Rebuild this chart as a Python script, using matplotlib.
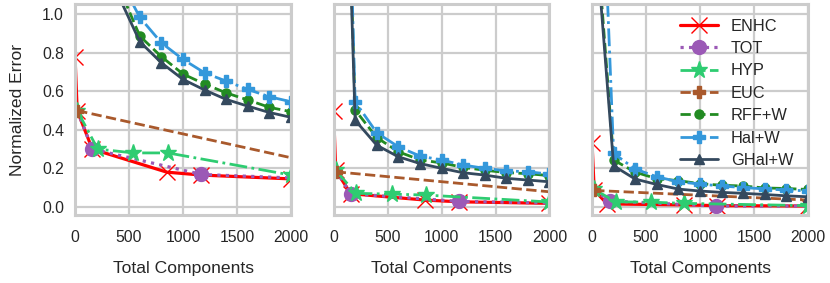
import numpy as np
import matplotlib
matplotlib.use("Agg")
import matplotlib.pyplot as plt
import seaborn as sns

# --- data (one list per panel) ---
enhc_x = [[0, 20, 160, 850, 1170, 2000],
          [0, 20, 160, 850, 1160, 2000],
          [0, 20, 140, 850, 1160, 2000]]
enhc_y = [[0.78, 0.50, 0.30, 0.18, 0.165, 0.145],
          [0.50, 0.19, 0.068, 0.035, 0.026, 0.018],
          [0.33, 0.087, 0.015, 0.010, 0.006, 0.004]]

tot_x = [[20, 160, 1170, 2000],
         [20, 160, 1160, 2000],
         [20, 165, 1150, 2000]]
tot_y = [[0.50, 0.30, 0.168, 0.15],
         [0.19, 0.068, 0.028, 0.02],
         [0.087, 0.03, 0.004, 0.004]]

hyp_x = [[20, 210, 540, 860, 2000],
         [20, 205, 546, 855, 2000],
         [20, 220, 545, 850, 2000]]
hyp_y = [[0.50, 0.30, 0.28, 0.28, 0.165],
         [0.19, 0.07, 0.066, 0.061, 0.025],
         [0.09, 0.026, 0.024, 0.018, 0.006]]

euc_x = [20, 2000]
euc_y = [[0.50, 0.255],
         [0.182, 0.078],
         [0.085, 0.035]]

w_x = [50, 200, 400, 600, 800, 1000, 1200, 1400, 1600, 1800, 2000]
rff_y = [[4.2, 1.75, 1.15, 0.887, 0.78, 0.69, 0.638, 0.592, 0.555, 0.517, 0.494],
         [3.3, 0.503, 0.36, 0.286, 0.244, 0.228, 0.205, 0.19, 0.178, 0.172, 0.162],
         [1.35, 0.243, 0.18, 0.146, 0.136, 0.12, 0.112, 0.108, 0.098, 0.095, 0.09]]
hal_y = [[4.5, 1.9, 1.2, 0.984, 0.852, 0.766, 0.696, 0.653, 0.61, 0.572, 0.546],
         [3.57, 0.546, 0.385, 0.312, 0.264, 0.243, 0.217, 0.2, 0.187, 0.182, 0.17],
         [2.38, 0.277, 0.196, 0.156, 0.13, 0.118, 0.108, 0.10, 0.093, 0.087, 0.083]]
ghal_y = [[4.0, 1.6, 1.10, 0.858, 0.748, 0.662, 0.607, 0.558, 0.523, 0.49, 0.465],
          [3.18, 0.45, 0.32, 0.26, 0.225, 0.20, 0.177, 0.165, 0.148, 0.139, 0.13],
          [1.29, 0.213, 0.144, 0.116, 0.092, 0.082, 0.075, 0.07, 0.064, 0.057, 0.052]]

sns.set_style("whitegrid")
plt.rcParams['font.family'] = ['Liberation Sans', 'DejaVu Sans']
plt.rcParams.update({
    'axes.edgecolor': '#cccccc',
    'axes.linewidth': 2.2,
    'grid.color': '#cccccc',
    'grid.linewidth': 1.6,
    'xtick.major.pad': 11,
    'ytick.major.pad': 8,
})

fig, axes = plt.subplots(1, 3, figsize=(8.3, 2.83), dpi=100, sharey=True)
fig.subplots_adjust(left=0.0904, right=0.9735, bottom=0.24, top=0.986, wspace=0.197)

for i, ax in enumerate(axes):
    ax.plot(enhc_x[i], enhc_y[i], color='red', ls='-', lw=2.3, marker='x',
            ms=12, mew=1.0, label='ENHC')
    ax.plot(tot_x[i], tot_y[i], color='#9b59b6', ls=':', lw=2.3, marker='o',
            ms=10, markevery=[1, 2], label='TOT')
    ax.plot(hyp_x[i], hyp_y[i], color='#2ecc71', ls='-.', lw=2.0, marker='*',
            ms=12.5, label='HYP')
    ax.plot(euc_x, euc_y[i], color='#a9592c', ls='--', lw=2.0, marker='P',
            ms=9, markevery=[0], label='EUC')
    ax.plot(w_x, rff_y[i], color='#228b22', ls='--', lw=2.0, marker='o',
            ms=6.5, label='RFF+W')
    ax.plot(w_x, hal_y[i], color='#3498db', ls='-.', lw=2.0, marker='P',
            ms=8, label='Hal+W')
    ax.plot(w_x, ghal_y[i], color='#34495e', ls='-', lw=2.0, marker='^',
            ms=7.5, label='GHal+W')

    ax.set_xlim(0, 2000)
    ax.set_ylim(-0.043, 1.054)
    ax.set_xticks([0, 500, 1000, 1500, 2000])
    ax.set_yticks([0.0, 0.2, 0.4, 0.6, 0.8, 1.0])
    ax.tick_params(labelsize=11.3, colors='#262626', length=0)
    ax.set_xlabel('Total Components', fontsize=12.6, labelpad=11, color='#262626')

axes[0].set_ylabel('Normalized Error', fontsize=12.6, labelpad=12, color='#262626')
axes[2].legend(loc='upper right', frameon=False, fontsize=11.8,
               labelspacing=0.45, handlelength=2.3, borderaxespad=0.5)

plt.savefig('out.png', dpi=100)
